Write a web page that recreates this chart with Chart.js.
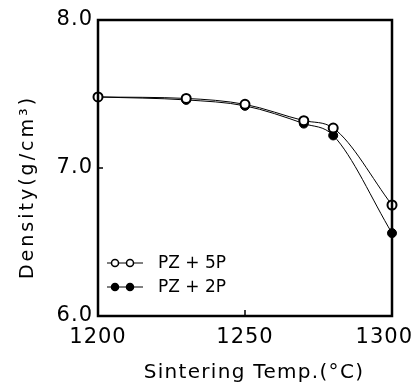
<!DOCTYPE html>
<html>
<head>
<meta charset="utf-8">
<script src="https://cdn.jsdelivr.net/npm/chart.js@4/dist/chart.umd.min.js"></script>
<style>
  html, body { margin: 0; padding: 0; background: #fff; }
  #wrap { width: 416px; height: 388px; }
</style>
</head>
<body>
<div id="wrap"><canvas id="c" width="416" height="388"></canvas></div>
<script>
// sintering temperature (°C)
const temps = [1200, 1230, 1250, 1270, 1280, 1300];
// density (g/cm3)
const pz5p = [7.48, 7.47, 7.43, 7.32, 7.27, 6.75];
const pz2p = [7.48, 7.46, 7.42, 7.30, 7.22, 6.56];
const seriesNames = ['PZ + 5P', 'PZ + 2P'];
const xTicks = [1200, 1250, 1300];
const yTicks = [6.0, 7.0, 8.0];
const xTitle = 'Sintering Temp.(°C)';
const yTitle = 'Density(g/cm³)';

const FONT = "'DejaVu Sans', sans-serif";

function pts(vals) {
  return temps.map((t, i) => ({ x: t, y: vals[i] }));
}

// slightly wider letter spacing like the original typeface
const spacingPlugin = {
  id: 'spacing',
  beforeDraw(chart) { chart.ctx.letterSpacing = '1px'; }
};

// box frame, inward ticks, axis titles and the in-plot legend
const framePlugin = {
  id: 'frame',
  afterDraw(chart) {
    const ctx = chart.ctx;
    const a = chart.chartArea;
    const xs = chart.scales.x, ys = chart.scales.y;
    ctx.save();
    ctx.strokeStyle = '#000';
    ctx.lineWidth = 2.5;
    ctx.strokeRect(a.left, a.top, a.right - a.left, a.bottom - a.top);

    ctx.lineWidth = 1.5;
    ctx.beginPath();
    xTicks.slice(1, -1).forEach(v => {
      const px = xs.getPixelForValue(v);
      ctx.moveTo(px, a.bottom);
      ctx.lineTo(px, a.bottom - 6);
    });
    yTicks.slice(1, -1).forEach(v => {
      const py = ys.getPixelForValue(v);
      ctx.moveTo(a.left, py);
      ctx.lineTo(a.left + 5, py);
    });
    ctx.stroke();

    ctx.fillStyle = '#000';
    ctx.textAlign = 'center';
    ctx.textBaseline = 'middle';

    // x axis title
    ctx.letterSpacing = '1.3px';
    ctx.font = '20px ' + FONT;
    ctx.fillText(xTitle, 254, 373);

    // y axis title
    ctx.save();
    ctx.letterSpacing = '3px';
    ctx.translate(28, 187);
    ctx.rotate(-Math.PI / 2);
    ctx.font = '19px ' + FONT;
    ctx.fillText(yTitle, 0, 0);
    ctx.restore();

    // legend
    ctx.letterSpacing = '0px';
    const rows = [263, 287];
    chart.data.datasets.forEach((ds, i) => {
      const y = rows[i];
      ctx.lineWidth = 1;
      ctx.beginPath();
      ctx.moveTo(107, y);
      ctx.lineTo(143, y);
      ctx.stroke();
      [115, 130].forEach(cx => {
        ctx.beginPath();
        ctx.arc(cx, y, 3.5, 0, Math.PI * 2);
        ctx.fillStyle = ds.pointBackgroundColor;
        ctx.fill();
        ctx.lineWidth = 1.5;
        ctx.stroke();
      });
      ctx.fillStyle = '#000';
      ctx.font = '17px ' + FONT;
      ctx.textBaseline = 'middle';
      ctx.textAlign = 'left';
      ctx.fillText(ds.label, 158, y + 1);
    });
    ctx.restore();
  }
};

new Chart(document.getElementById('c').getContext('2d'), {
  type: 'line',
  data: {
    datasets: [
      {
        label: seriesNames[0],
        data: pts(pz5p),
        borderColor: '#000',
        borderWidth: 1,
        pointBackgroundColor: '#fff',
        pointBorderColor: '#000',
        pointBorderWidth: 2,
        pointRadius: 4.5,
        cubicInterpolationMode: 'monotone',
        clip: 10,
        order: 0
      },
      {
        label: seriesNames[1],
        data: pts(pz2p),
        borderColor: '#000',
        borderWidth: 1,
        pointBackgroundColor: '#000',
        pointBorderColor: '#000',
        pointBorderWidth: 1,
        pointRadius: 4.5,
        cubicInterpolationMode: 'monotone',
        clip: 10,
        order: 1
      }
    ]
  },
  options: {
    responsive: false,
    animation: false,
    layout: { padding: { left: 0, right: 24, top: 20, bottom: 0 } },
    plugins: { legend: { display: false }, tooltip: { enabled: false } },
    scales: {
      x: {
        type: 'linear',
        min: 1200,
        max: 1300,
        afterBuildTicks: s => { s.ticks = xTicks.map(v => ({ value: v })); },
        grid: { display: false, drawTicks: false },
        border: { display: false },
        ticks: {
          color: '#000',
          padding: 9,
          maxRotation: 0,
          font: { family: FONT, size: 21 },
          // last label sits a little left of the right axis
          callback: v => v === xTicks[xTicks.length - 1] ? String(v) + '  ' : String(v)
        },
        title: { display: false },
        afterFit: s => { s.height = 72; s.paddingLeft = 0; s.paddingRight = 0; }
      },
      y: {
        type: 'linear',
        min: 6,
        max: 8,
        afterBuildTicks: s => { s.ticks = yTicks.map(v => ({ value: v })); },
        grid: { display: false, drawTicks: false },
        border: { display: false },
        ticks: {
          color: '#000',
          padding: 5,
          font: { family: FONT, size: 21 },
          callback: v => Number(v).toFixed(1)
        },
        title: { display: false },
        afterFit: s => { s.width = 98; s.paddingTop = 0; s.paddingBottom = 0; }
      }
    }
  },
  plugins: [spacingPlugin, framePlugin]
});
</script>
</body>
</html>
